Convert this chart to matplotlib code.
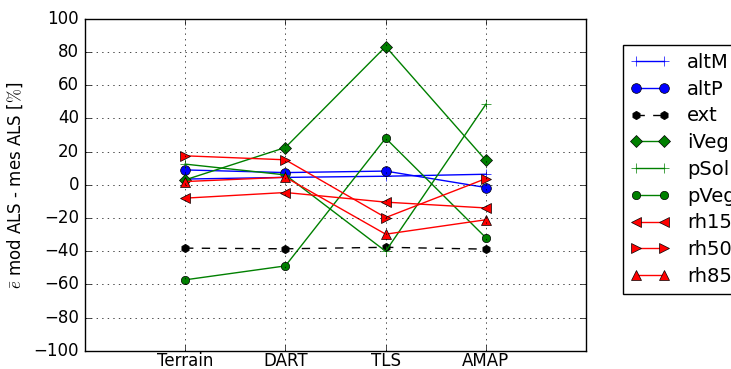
import matplotlib

matplotlib.use("Agg")
import matplotlib.pyplot as plt
import numpy as np

plt.style.use("classic")
plt.rcParams["mathtext.fontset"] = "cm"

sources = ["Terrain", "DART", "TLS", "AMAP"]

alt_m = [3.5, 4.5, 5.2, 6.4]
alt_p = [9.0, 7.4, 8.3, -1.6]
ext = [-38.1, -38.5, -37.6, -38.7]
i_veg = [3.0, 22.5, 83.3, 14.7]
p_sol = [12.5, 6.0, -40.0, 48.6]
p_veg = [-57.2, -48.8, 28.1, -31.9]
rh15 = [-8.0, -4.6, -10.4, -13.9]
rh50 = [17.5, 15.1, -19.7, 3.8]
rh85 = [2.0, 4.6, -29.7, -21.0]

series = [
    ("altM", alt_m, dict(color="b", marker="+", mec="b", ms=7)),
    ("altP", alt_p, dict(color="b", marker="o", mfc="b", ms=7)),
    ("ext", ext, dict(color="k", ls="--", marker="h", mfc="k", ms=6)),
    ("iVeg", i_veg, dict(color="g", marker="D", mfc="g", ms=6)),
    ("pSol", p_sol, dict(color="g", marker="+", mec="g", ms=7)),
    ("pVeg", p_veg, dict(color="g", marker="o", mfc="g", ms=6)),
    ("rh15", rh15, dict(color="r", marker="<", mfc="r", ms=7)),
    ("rh50", rh50, dict(color="r", marker=">", mfc="r", ms=7)),
    ("rh85", rh85, dict(color="r", marker="^", mfc="r", ms=7)),
]

fig = plt.figure(figsize=(7.31, 3.69), dpi=100, facecolor="w")
ax = fig.add_axes([0.116, 0.049, 0.686, 0.9])
x = np.arange(1, len(sources) + 1)
for name, vals, kw in series:
    ax.plot(x, vals, label=name, lw=1, **kw)

ax.set_xlim(0, 5)
ax.set_ylim(-100, 100)
ax.set_xticks(x)
ax.set_xticklabels(sources)
ax.set_yticks(np.arange(-100, 101, 20))
ax.tick_params(axis="x", pad=1)
ax.grid(True)
ax.set_ylabel(r"$\bar{e}$ mod ALS - mes ALS [$\%$]", labelpad=6)
ax.legend(loc="upper left", bbox_to_anchor=(0.852, 0.878), bbox_transform=fig.transFigure,
          numpoints=2, fontsize=14, borderaxespad=0, labelspacing=0.4,
          handlelength=2.0, handletextpad=0.9)

fig.savefig("out.png", dpi=100, facecolor="w")
